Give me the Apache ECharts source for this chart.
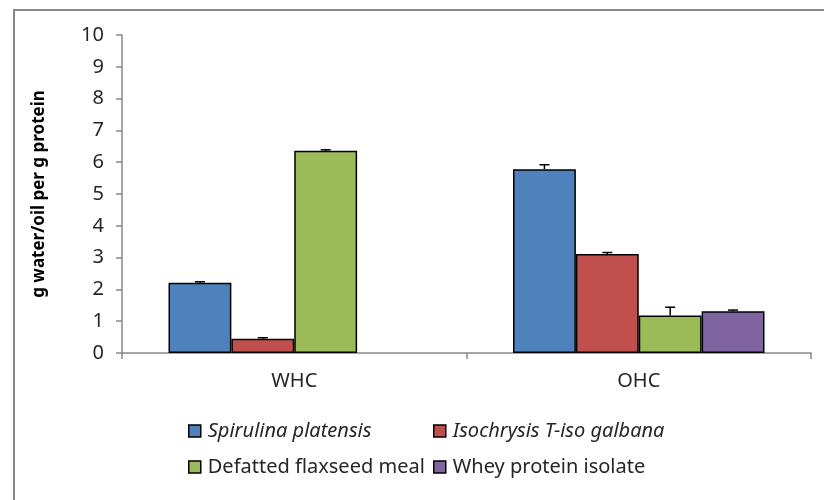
<!DOCTYPE html>
<html>
<head>
<meta charset="utf-8">
<script src="https://cdn.jsdelivr.net/npm/echarts@6/dist/echarts.min.js"></script>
<style>
  html, body { margin: 0; padding: 0; background: #fff; }
  #chart { width: 824px; height: 500px; }
</style>
</head>
<body>
<div id="chart"></div>
<script>
var categories = ['WHC', 'OHC']
var seriesNames = ['Spirulina platensis', 'Isochrysis T-iso galbana', 'Defatted flaxseed meal', 'Whey protein isolate']
var spirulina = [2.21, 5.78]
var isochrysis = [0.45, 3.11]
var flaxseed = [6.36, 1.18]
var whey = [null, 1.31]
var spirulinaErr = [0.03, 0.14]
var isochrysisErr = [0.03, 0.05]
var flaxseedErr = [0.03, 0.26]
var wheyErr = [null, 0.04]
var yTicks = [0, 1, 2, 3, 4, 5, 6, 7, 8, 9, 10]

var colors = ['#4F81BD', '#C0504D', '#9BBB59', '#8064A2']
var values = [spirulina, isochrysis, flaxseed, whey]
var errors = [spirulinaErr, isochrysisErr, flaxseedErr, wheyErr]
var fontFam = 'Noto Sans'
var catGap = 0.27

var chart = echarts.init(document.getElementById('chart'))

var errData = []
values.forEach(function (vals, s) {
  vals.forEach(function (v, c) {
    if (v != null) errData.push([c, v, errors[s][c], s])
  })
})

var series = values.map(function (vals, s) {
  return {
    name: seriesNames[s],
    type: 'bar',
    data: vals,
    barGap: 0,
    barCategoryGap: (catGap * 100) + '%',
    itemStyle: { color: colors[s], borderColor: '#000', borderWidth: 1.5 },
    emphasis: { disabled: true }
  }
})

// error bars, upper side only
series.push({
  type: 'custom',
  data: errData,
  z: 10,
  renderItem: function (params, api) {
    var c = api.value(0)
    var v = api.value(1)
    var e = api.value(2)
    var s = api.value(3)
    var band = api.size([1, 0])[0]
    var bw = band * (1 - catGap) / 4
    var center = api.coord([c, 0])[0]
    var x = center + (s - 1.5) * bw
    var top = api.coord([c, v])[1]
    var hi = api.coord([c, v + e])[1]
    var st = { stroke: '#000', lineWidth: 1.5 }
    return {
      type: 'group',
      children: [
        { type: 'line', shape: { x1: x, y1: top, x2: x, y2: hi }, style: st },
        { type: 'line', shape: { x1: x - 5, y1: hi, x2: x + 5, y2: hi }, style: st }
      ]
    }
  }
})

var legendPos = [[188, 421], [433, 421], [188, 457], [433, 457]]
var legends = seriesNames.map(function (n, i) {
  return {
    data: [n],
    left: legendPos[i][0],
    top: legendPos[i][1],
    padding: 0,
    icon: 'rect',
    itemWidth: 12,
    itemHeight: 12,
    itemGap: 0,
    selectedMode: false,
    itemStyle: { borderColor: '#000', borderWidth: 1.5 },
    textStyle: {
      fontFamily: fontFam,
      fontSize: 20,
      color: '#262626',
      fontStyle: i < 2 ? 'italic' : 'normal',
      padding: [0, 0, 0, 2]
    }
  }
})

chart.setOption({
  backgroundColor: '#fff',
  animation: false,
  graphic: [{
    type: 'rect',
    shape: { x: 14, y: 10, width: 900, height: 600 },
    style: { fill: null, stroke: '#888', lineWidth: 2 },
    z: -1
  }],
  grid: { left: 122, right: 13, top: 35, bottom: 147 },
  legend: legends,
  xAxis: {
    type: 'category',
    data: categories,
    axisLine: { lineStyle: { color: '#888', width: 1.5 } },
    axisTick: { show: true, length: 6, lineStyle: { color: '#888', width: 1.5 } },
    axisLabel: { fontFamily: fontFam, fontSize: 20, color: '#262626', margin: 18 }
  },
  yAxis: {
    type: 'value',
    min: yTicks[0],
    max: yTicks[yTicks.length - 1],
    interval: 1,
    name: 'g water/oil per g protein',
    nameLocation: 'middle',
    nameGap: 74,
    nameTextStyle: { fontFamily: fontFam, fontSize: 17, fontWeight: 'bold', color: '#000' },
    axisLine: { show: true, lineStyle: { color: '#888', width: 1.5 } },
    axisTick: { show: true, length: 6, lineStyle: { color: '#888', width: 1.5 } },
    splitLine: { show: false },
    axisLabel: { fontFamily: fontFam, fontSize: 20, color: '#262626', margin: 18 }
  },
  series: series
})
</script>
</body>
</html>
